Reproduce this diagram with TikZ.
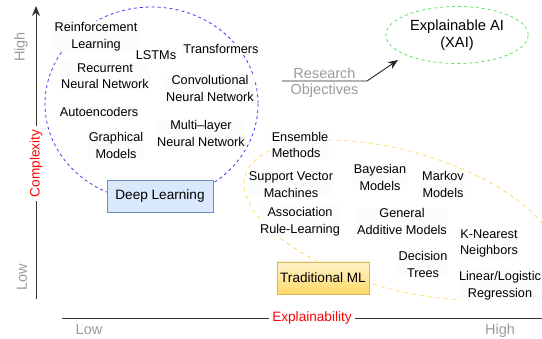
\documentclass[tikz,border=0pt]{standalone}
\usepackage{fontspec}
\setmainfont{Liberation Sans}
\usetikzlibrary{arrows.meta,shapes.geometric}
\definecolor{axisgray}{RGB}{155,155,155}
\definecolor{dlblue}{RGB}{60,60,240}
\definecolor{dlfill}{RGB}{218,232,252}
\definecolor{dldraw}{RGB}{108,142,191}
\definecolor{mlorange}{RGB}{255,217,102}
\definecolor{mltop}{RGB}{255,242,204}
\definecolor{mldraw}{RGB}{214,182,86}
\definecolor{xaigreen}{RGB}{100,225,100}
\definecolor{lblbg}{RGB}{251,252,252}

\begin{document}
\begin{tikzpicture}
  [x=1pt, y=-1pt,
  item/.style={fill=lblbg, inner sep=1pt, align=center, font=\fontsize{12.7}{16.5}\selectfont},
  group/.style={rectangle, minimum width=106pt, minimum height=32pt, font=\fontsize{13.6}{16}\selectfont},
  axislbl/.style={text=axisgray, font=\fontsize{14.5}{16}\selectfont},
  axisname/.style={text=red, font=\fontsize{13.6}{16}\selectfont},
  axis/.style={draw, draw=black!80, line width=0.9pt},
  line/.style={draw, -{Stealth[length=10pt, width=8pt]}, draw=black!85, line width=0.9pt}]
  \useasboundingbox (0,0) rectangle (542,339);

  % clusters
  \draw [dlblue, dash pattern=on 3pt off 3pt, line width=0.8pt] (151.5,104) ellipse (106.5 and 97);
  \draw [mlorange, dash pattern=on 4pt off 4pt, line width=0.8pt, rotate around={-16:(400,220)}] (400,220) ellipse (161 and 69);

  % nodes
  \node [item] (rl) at (96,36.5) {Reinforcement\\Learning};
  \node [item] (lstm) at (156,55) {LSTMs};
  \node [item] (trans) at (221,49) {Transformers};
  \node [item] (rnn) at (105,76) {Recurrent\\Neural Network};
  \node [item] (cnn) at (210,88.5) {Convolutional\\Neural Network};
  \node [item] (ae) at (99,112) {Autoencoders};
  \node [item] (mlp) at (201,133.5) {Multi–layer\\Neural Network};
  \node [item] (gm) at (116,145.5) {Graphical\\Models};
  \node [group, fill=dlfill, draw=dldraw] (dl) at (160,196) {Deep Learning};

  \node [item, align=left] (ens) at (300,145) {Ensemble\\Methods};
  \node [item] (svm) at (291,184.5) {Support Vector\\Machines};
  \node [item] (bayes) at (380,177.5) {Bayesian\\Models};
  \node [item] (markov) at (443,184.5) {Markov\\Models};
  \node [item] (arl) at (300,221.5) {Association\\Rule-Learning};
  \node [item] (gam) at (402,221.5) {General\\Additive Models};
  \node [item] (knn) at (489,243.5) {K-Nearest\\Neighbors};
  \node [item] (dt) at (423,264.5) {Decision\\Trees};
  \node [item] (lr) at (500,285.5) {Linear/Logistic\\Regression};
  \node [group, minimum width=92pt, top color=mltop, bottom color=mlorange, draw=mldraw] (ml) at (323,278) {Traditional ML};

  \node [ellipse, draw=xaigreen, dash pattern=on 3pt off 3pt, line width=0.8pt, minimum width=128pt, minimum height=57pt, align=center, font=\fontsize{14.7}{17.5}\selectfont] (xai) at (457,35) {Explainable AI\\(XAI)};

  % axes
  \node [axislbl, rotate=90] (yhigh) at (21,47) {High};
  \node [axislbl, rotate=90] (ylow) at (22,277) {Low};
  \node [axislbl] (xlow) at (89,330) {Low};
  \node [axislbl] (xhigh) at (500,331) {High};
  \node [axisname, rotate=90] (cplx) at (36,163.5) {Complexity};
  \node [axisname] (expl) at (312,318) {Explainability};
  \coordinate (ybot) at (36,299);
  \coordinate (ytop) at (36,6);
  \coordinate (xleft) at (62,318);
  \coordinate (xright) at (542,318);

  % edges
  \path [axis] (ybot) -- (cplx);
  \path [axis, -{Stealth[length=10pt, width=8pt]}] (cplx) -- (ytop);
  \path [axis] (xleft) -- (expl);
  \path [axis] (expl) -- (xright);

  \coordinate (ro start) at (282,81);
  \coordinate (ro bend) at (367,81);
  \coordinate (ro tip) at (398,60);
  \path [line] (ro start) -- node [above=-1pt, axislbl] (research) {Research} node [below=-1pt, axislbl] (objectives) {Objectives} (ro bend) -- (ro tip);

\end{tikzpicture}
\end{document}
